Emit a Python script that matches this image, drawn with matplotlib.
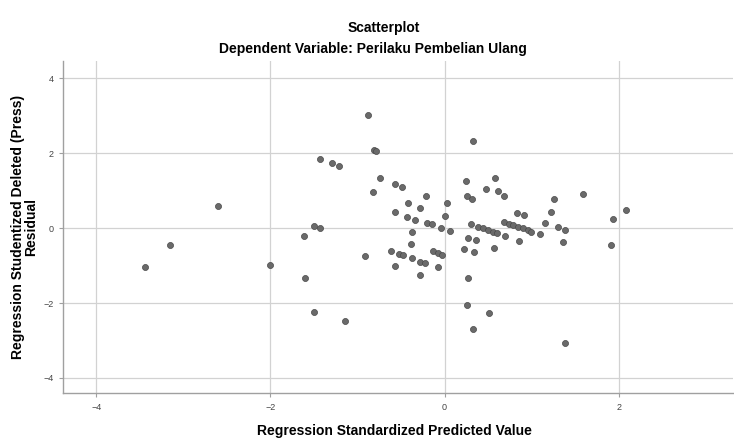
import numpy as np
import matplotlib
matplotlib.use("Agg")
import matplotlib.pyplot as plt

plt.rcParams['font.family'] = ['Liberation Sans', 'DejaVu Sans']

# Regression standardized predicted value (x) and studentized deleted residual (y)
pred = [-0.879, -0.813, -0.787, -1.428, -1.291, -1.214, -0.741, -0.573, -0.489,
        -0.825, -2.604, -1.504, -1.428, -1.611, -3.154, -3.444, -2.001, -1.603,
        -0.916, -1.504, -1.145,
        -0.210, -0.420, -0.283, 0.031, -0.573, -0.432, -0.336, 0.008, -0.203,
        -0.145, -0.046, 0.057, -0.370, -0.390, -0.611, -0.519, -0.481, -0.374,
        -0.279, -0.221, -0.565, -0.286, -0.137, -0.077, -0.031, -0.077, 0.218,
        0.332, 0.244, 0.580, 0.481, 0.611, 0.687, 0.263, 0.321, 1.260, 1.222,
        0.828, 0.916, 0.305, 0.389, 0.447, 0.504, 0.561, 0.599,
        0.687, 0.745, 0.790, 0.848, 0.905, 0.962, 0.993, 1.153, 1.096, 1.306,
        1.382, 1.363, 0.275, 0.358, 0.695, 0.859, 0.344, 0.573,
        1.589, 1.932, 2.088, 1.909, 0.267, 0.260, 0.512, 0.332, 1.382]
resid = [3.02, 2.09, 2.07, 1.86, 1.74, 1.67, 1.33, 1.17, 1.11,
         0.98, 0.60, 0.07, 0.01, -0.21, -0.45, -1.03, -0.99, -1.32,
         -0.74, -2.25, -2.48,
         0.86, 0.67, 0.55, 0.68, 0.43, 0.31, 0.22, 0.33, 0.15,
         0.11, 0.00, -0.07, -0.09, -0.42, -0.61, -0.70, -0.72, -0.80,
         -0.91, -0.92, -1.01, -1.24, -0.61, -0.67, -0.71, -1.03, -0.56,
         2.33, 1.27, 1.34, 1.05, 1.00, 0.87, 0.86, 0.79, 0.78, 0.44,
         0.42, 0.34, 0.11, 0.04, 0.00, -0.05, -0.09, -0.12,
         0.16, 0.12, 0.09, 0.04, 0.00, -0.06, -0.09, 0.15, -0.16, 0.03,
         -0.06, -0.37, -0.25, -0.31, -0.22, -0.34, -0.64, -0.52,
         0.92, 0.25, 0.49, -0.45, -1.32, -2.06, -2.26, -2.69, -3.07]

ticks = [-4, -2, 0, 2]
yticks = [-4, -2, 0, 2, 4]

fig = plt.figure(figsize=(7.34, 4.38), dpi=100)
ax = fig.add_axes([0.0862, 0.102, 0.912, 0.759])

ax.scatter(pred, resid, s=19, facecolor='#6a6a6a', edgecolor='#484848',
           linewidth=0.5, zorder=3)

ax.set_xlim(-4.38, 3.31)
ax.set_ylim(-4.41, 4.47)
ax.set_xticks(ticks)
ax.set_yticks(yticks)
ax.grid(True, color='#d2d2d2', linewidth=0.9)
ax.set_axisbelow(True)

for s in ['top', 'right']:
    ax.spines[s].set_visible(False)
for s in ['left', 'bottom']:
    ax.spines[s].set_color('#a0a0a0')
    ax.spines[s].set_linewidth(1.0)
ax.tick_params(axis='both', length=3, color='#a0a0a0', labelsize=6.5,
               labelcolor='#444444', pad=4)

# axis titles placed like the SPSS output
fig.text(0.538, 0.016, 'Regression Standardized Predicted Value', ha='center',
         va='center', fontsize=10, fontweight='bold')
fig.text(0.033, 0.482, 'Regression Studentized Deleted (Press)\nResidual',
         ha='center', va='center', rotation=90, fontsize=10, fontweight='bold',
         linespacing=0.9)

fig.text(0.523, 0.935, 'Scatterplot', ha='center', va='center', fontsize=10,
         fontweight='bold')
fig.text(0.508, 0.887, 'Dependent Variable: Perilaku Pembelian Ulang',
         ha='center', va='center', fontsize=10, fontweight='bold')

fig.savefig('out.png', dpi=100)
